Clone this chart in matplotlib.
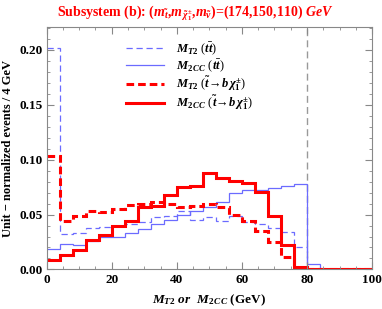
import numpy as np
import matplotlib.pyplot as plt

plt.rcParams['font.family'] = ['Liberation Serif', 'DejaVu Serif']
plt.rcParams['mathtext.fontset'] = 'custom'
plt.rcParams['mathtext.rm'] = 'Liberation Serif:bold'
plt.rcParams['mathtext.it'] = 'Liberation Serif:italic:bold'
plt.rcParams['mathtext.bf'] = 'Liberation Serif:bold'

# 4 GeV bins from 0 to 100
edges = np.arange(0, 101, 4)

mt2_tt = [0.202, 0.032, 0.033, 0.038, 0.039, 0.040, 0.041, 0.043, 0.048, 0.049,
          0.053, 0.045, 0.048, 0.044, 0.049, 0.043, 0.041, 0.038, 0.034, 0.020,
          0, 0, 0, 0, 0]
m2cc_tt = [0.019, 0.023, 0.022, 0.026, 0.030, 0.030, 0.033, 0.037, 0.041, 0.045,
           0.050, 0.053, 0.057, 0.061, 0.070, 0.072, 0.072, 0.074, 0.076, 0.078,
           0.005, 0, 0, 0, 0]
mt2_stop = [0.103, 0.044, 0.049, 0.053, 0.052, 0.055, 0.059, 0.060, 0.061, 0.060,
            0.057, 0.058, 0.060, 0.057, 0.050, 0.044, 0.035, 0.025, 0.011, 0.0,
            0, 0, 0, 0, 0]
m2cc_stop = [0.009, 0.013, 0.018, 0.027, 0.031, 0.040, 0.044, 0.057, 0.058, 0.068,
             0.075, 0.076, 0.088, 0.083, 0.081, 0.079, 0.071, 0.049, 0.022, 0.002,
             0, 0, 0, 0, 0]

endpoint = 80

blue = '#6b6bff'
red = '#ff0000'

fig = plt.figure(figsize=(3.82, 3.09), dpi=100)
ax = fig.add_axes([0.122, 0.128, 0.852, 0.785])

ax.axvline(endpoint, color='#999999', lw=1.0, ls=(0, (5, 3)), zorder=1)

ax.stairs(mt2_tt, edges, baseline=None, color=blue, lw=0.9, ls=(0, (5, 3)),
          label=r'$M_{T2}$ ($t\bar{t}$)')
ax.stairs(m2cc_tt, edges, baseline=None, color=blue, lw=0.9,
          label=r'$M_{2\,CC}$ ($t\bar{t}$)')
ax.stairs(mt2_stop, edges, baseline=None, color=red, lw=2.2, ls=(0, (2.5, 1.3)),
          label=r'$M_{T2}$ ($\tilde{t}\!\rightarrow\! b\,\chi_1^{\pm}$)')
ax.stairs(m2cc_stop, edges, baseline=None, color=red, lw=2.2,
          label=r'$M_{2\,CC}$ ($\tilde{t}\!\rightarrow\! b\,\chi_1^{\pm}$)')

ax.set_xlim(0, 100)
ax.set_ylim(0, 0.221)
ax.set_xticks([0, 20, 40, 60, 80, 100])
ax.set_xticks(np.arange(0, 101, 5), minor=True)
ax.set_yticks([0.0, 0.05, 0.10, 0.15, 0.20])
ax.set_yticks(np.arange(0, 0.221, 0.01), minor=True)
ax.set_yticklabels(['0.00', '0.05', '0.10', '0.15', '0.20'])
ax.tick_params(which='both', direction='in', top=True, right=True, color='#888888')
ax.tick_params(which='major', length=5, width=0.8, labelsize=9.5, pad=3)
ax.tick_params(which='minor', length=2.5, width=0.6)
for lab in ax.get_xticklabels() + ax.get_yticklabels():
    lab.set_fontweight('bold')
for sp in ax.spines.values():
    sp.set_color('#888888')
    sp.set_linewidth(0.8)

ax.set_xlabel(r'$M_{T2}$ $or$  $M_{2\,CC}$ (GeV)', fontsize=9.5, fontweight='bold', labelpad=5)
ax.set_ylabel('Unit \u2212 normalized events / 4 GeV', fontsize=9, fontweight='bold', labelpad=4)

fig.text(0.51, 0.958,
         r'Subsystem (b): ($m_{\tilde{t}}$,$m_{\,\tilde{\chi}_1^{\pm}}$,$m_{\tilde{\nu}}$)=(174,150,110) $GeV$',
         color=red, fontsize=10, fontweight='bold', ha='center', va='center')

ax.legend(loc='upper left', bbox_to_anchor=(0.23, 0.965), frameon=False,
          fontsize=9, handlelength=3.0, handletextpad=1.0, labelspacing=0.05,
          borderaxespad=0)

fig.savefig('out.png', dpi=100)
